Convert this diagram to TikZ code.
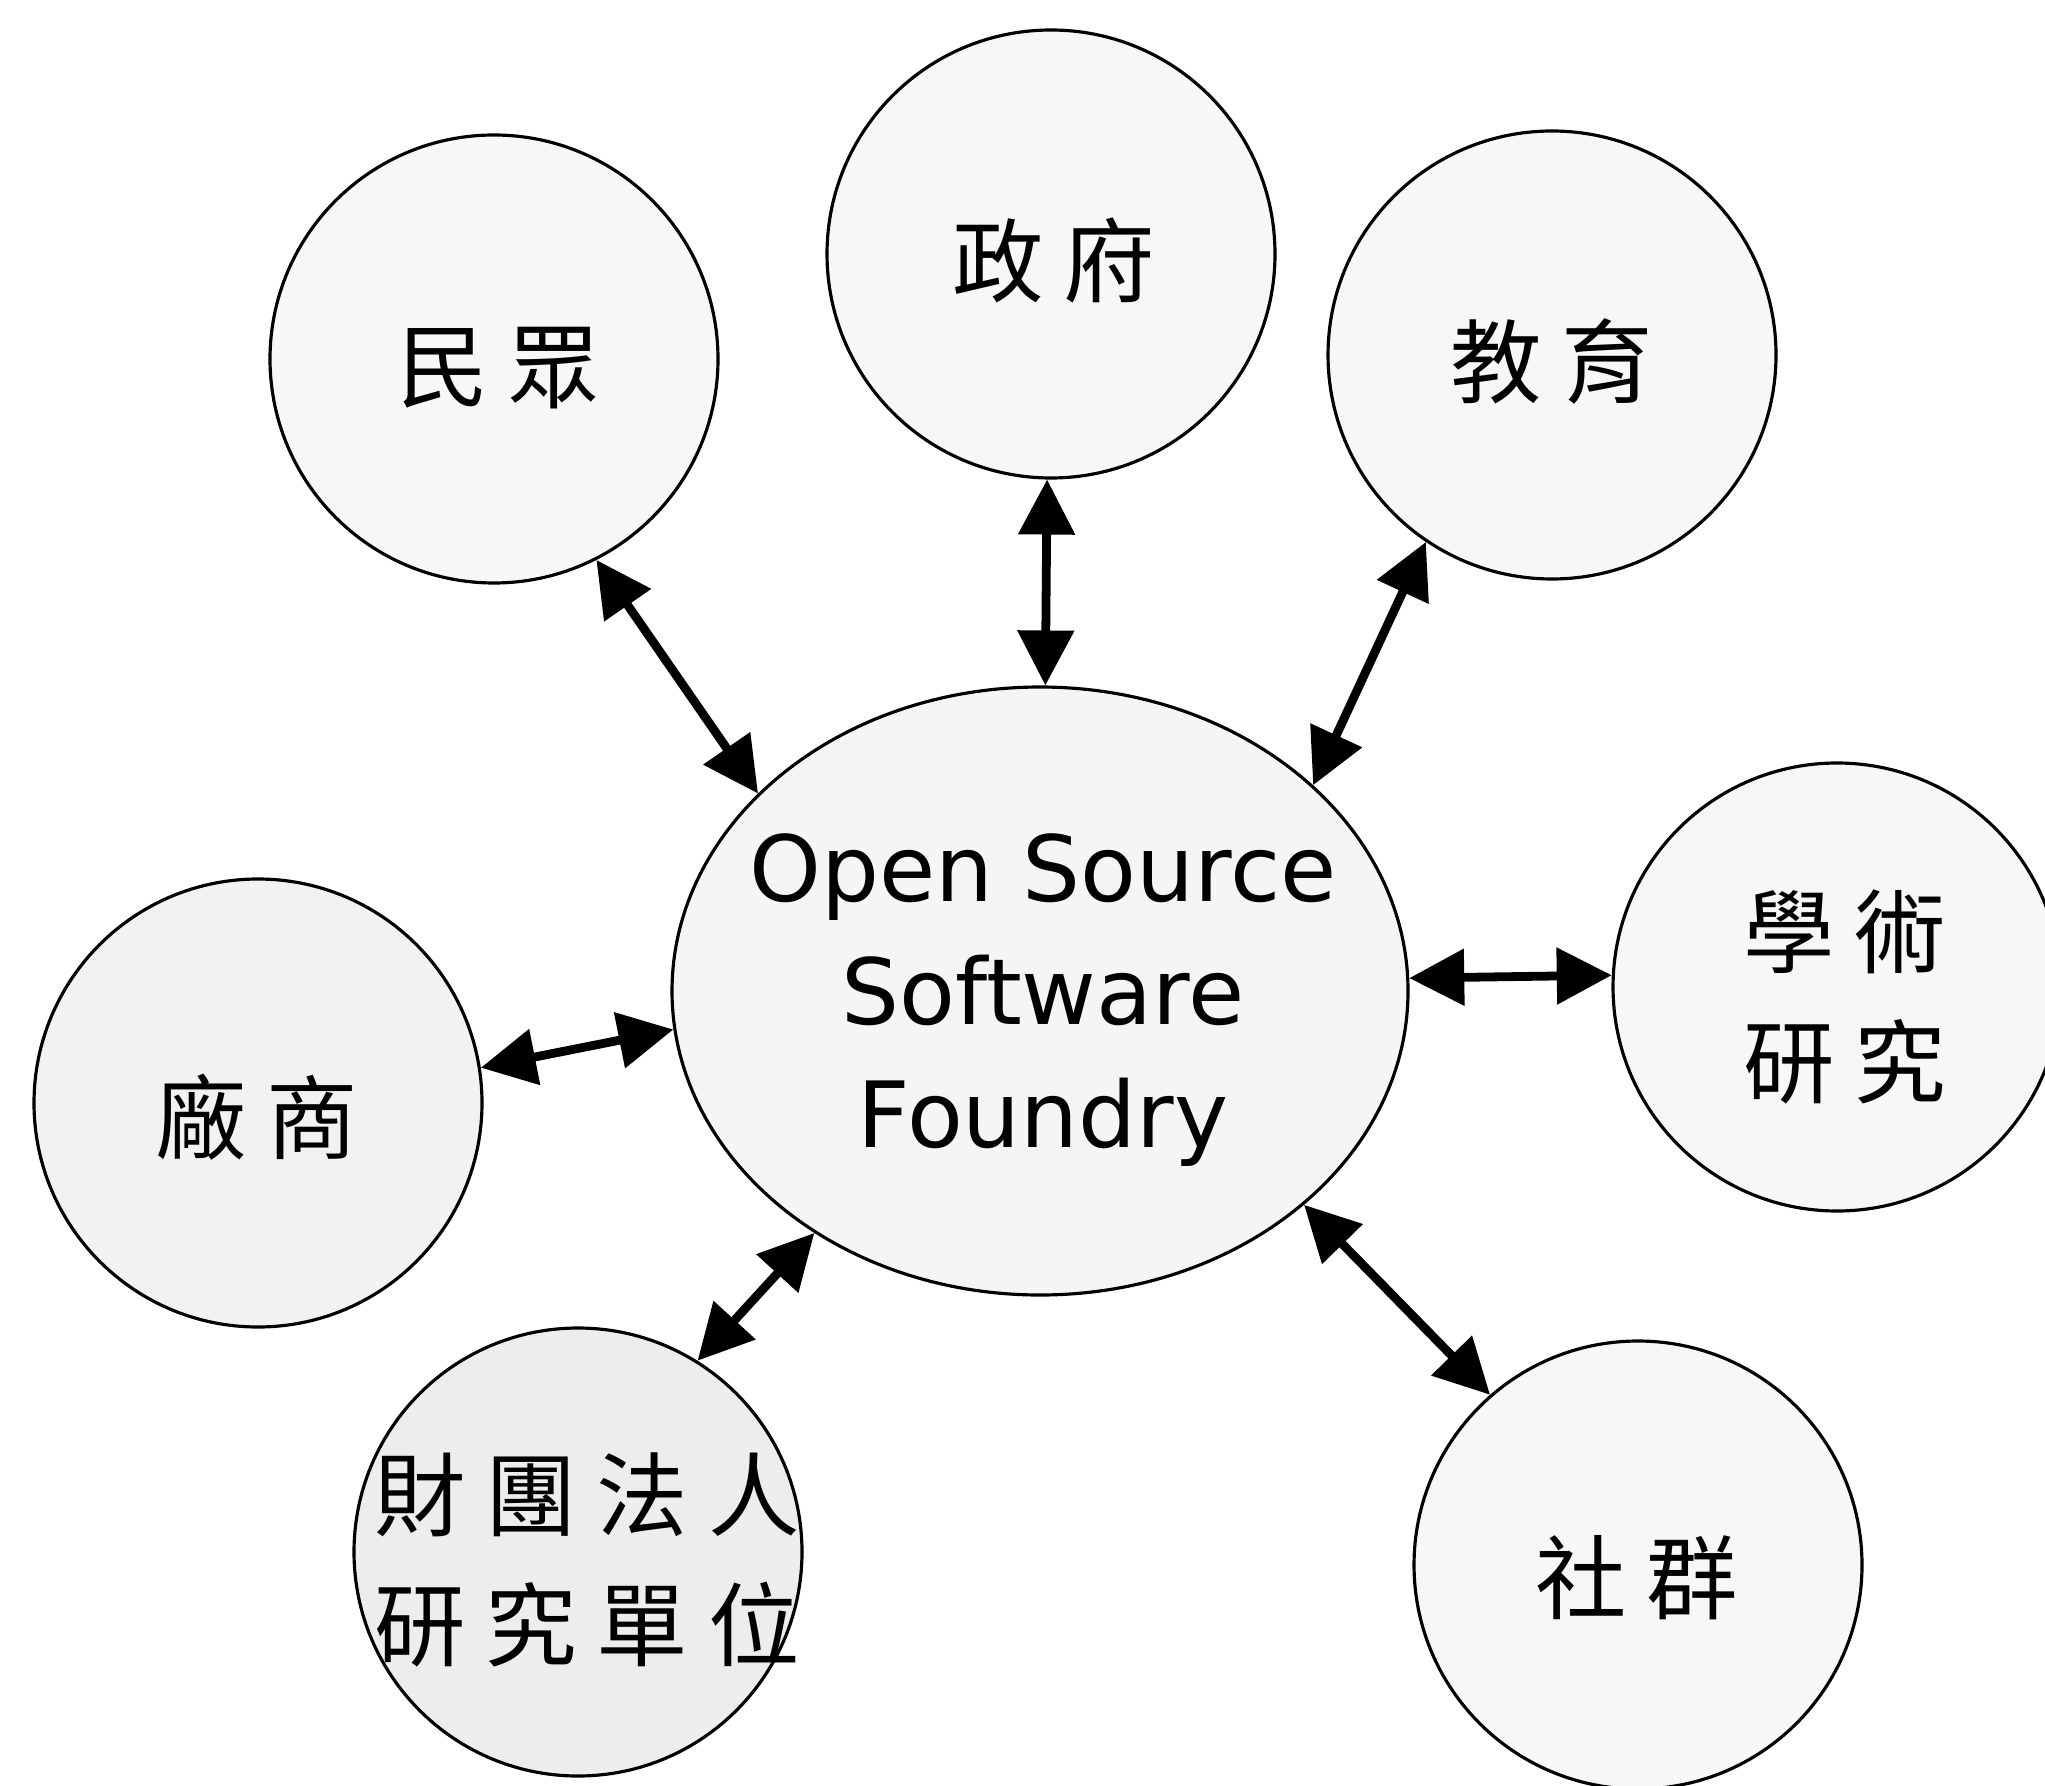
\documentclass[tikz,border=0pt]{standalone}
\usepackage{fontspec}
\newfontfamily\cjk{Noto Sans CJK TC}
\newfontfamily\latfont{DejaVu Sans}
\usetikzlibrary{arrows.meta,shapes.geometric}
\newcommand{\gp}{\hspace{2mm}}
\tikzset{
  bub/.style={circle,draw=black,line width=0.9pt,minimum size=4.48cm,inner sep=0pt,fill=black!3},
  bubtext/.style={align=center,inner sep=0pt,font=\cjk\fontsize{26}{37}\selectfont},
  hub/.style={ellipse,draw=black,line width=0.9pt,minimum width=7.36cm,minimum height=6.08cm,inner sep=0pt,
    fill=black!4},
  hubtext/.style={align=center,inner sep=0pt,font=\latfont\fontsize{26}{35}\selectfont},
  link/.style={line width=2.5pt,{Triangle[length=5.5mm,width=5.5mm]}-{Triangle[length=5.5mm,width=5.5mm]}}
}
\begin{document}
\begin{tikzpicture}
\clip (0,0) rectangle (20.45,-17.85);
\fill[white] (0,0) rectangle (20.45,-17.85);
\node[hub] (osf) at (10.40,-9.91) {};
\node[hubtext] (osft) at (10.43,-10.00) {Open Source\\Software\\Foundry};
\node[bub] (min) at (4.94,-3.59) {};
\node[bubtext] (mint) at (4.99,-3.68) {民\gp 眾};
\node[bub] (gov) at (10.51,-2.54) {};
\node[bubtext] (govt) at (10.54,-2.61) {政\gp 府};
\node[bub] (edu) at (15.52,-3.55) {};
\node[bubtext] (edut) at (15.52,-3.62) {教\gp 育};
\node[bub] (aca) at (18.37,-9.87) {};
\node[bubtext] (acat) at (18.45,-9.97) {學\gp 術\\研\gp 究};
\node[bub,fill=black!5] (ven) at (2.58,-11.03) {};
\node[bubtext] (vent) at (2.57,-11.17) {廠\gp 商};
\node[bub,fill=black!7] (fnd) at (5.78,-15.52) {};
\node[bubtext] (fndt) at (5.87,-15.60) {財\gp 團\gp 法\gp 人\\研\gp 究\gp 單\gp 位};
\node[bub] (com) at (16.38,-15.65) {};
\node[bubtext] (comt) at (16.37,-15.78) {社\gp 群};
\draw[link] (min.-63) -- (osf.145);
\draw[link] (gov.-91) -- (osf.89.5);
\draw[link] (edu.236) -- (osf.37);
\draw[link] (osf.2.4) -- (aca.177);
\draw[link] (ven.9.7) -- (osf.186.6);
\draw[link] (fnd.58.4) -- (osf.227.6);
\draw[link] (osf.-39.5) -- (com.131.6);
\end{tikzpicture}
\end{document}
